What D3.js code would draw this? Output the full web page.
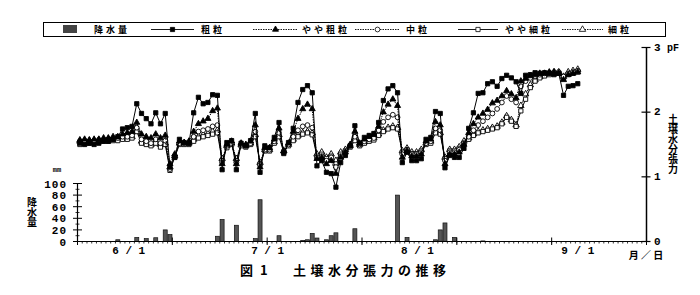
<!DOCTYPE html>
<html><head><meta charset="utf-8">
<script src="https://cdn.jsdelivr.net/npm/d3@7/dist/d3.min.js"></script>
<style>body{margin:0;background:#fff}svg{display:block}</style>
</head><body><svg id="c" width="700" height="295"></svg>
<script>
// ---- data ----
const seriesNames = ["粗粒","やや粗粒","中粒","やや細粒","細粒"];
const coarse = [1.52,1.50,1.52,1.50,1.52,1.55,1.55,1.58,1.62,1.74,1.76,1.78,2.13,1.98,1.90,1.82,1.99,1.82,1.98,1.15,1.30,1.58,1.53,1.52,1.99,2.23,2.13,2.15,2.27,2.26,1.11,1.53,1.56,1.11,1.52,1.48,1.56,1.98,1.07,1.48,1.45,1.61,1.84,1.36,1.53,1.75,2.15,2.35,2.41,2.30,1.17,1.25,1.07,1.05,0.84,1.22,1.33,1.48,1.79,1.52,1.61,1.64,1.67,1.84,2.18,2.36,2.41,2.30,1.22,1.38,1.25,1.25,1.28,1.58,1.61,2.01,1.98,1.14,1.33,1.30,1.30,1.44,1.75,1.99,2.29,2.30,2.44,2.47,2.40,2.52,2.57,2.53,2.47,2.29,2.57,2.58,2.61,2.60,2.61,2.60,2.58,2.60,2.26,2.40,2.41,2.44];
const semiCoarse = [1.57,1.58,1.57,1.58,1.58,1.60,1.60,1.62,1.62,1.66,1.68,1.70,1.84,1.66,1.62,1.60,1.66,1.60,1.64,1.20,1.35,1.55,1.53,1.55,1.70,1.82,1.86,1.90,2.02,2.06,1.20,1.50,1.55,1.20,1.52,1.50,1.55,1.80,1.15,1.45,1.45,1.58,1.75,1.40,1.52,1.70,1.90,2.05,2.12,2.05,1.28,1.30,1.20,1.25,1.05,1.30,1.38,1.50,1.70,1.52,1.58,1.62,1.65,1.78,2.00,2.12,2.20,2.10,1.30,1.40,1.32,1.32,1.35,1.55,1.58,1.85,1.80,1.20,1.35,1.35,1.38,1.50,1.68,1.82,1.92,1.98,2.04,2.14,2.18,2.25,2.33,2.28,2.22,2.48,2.52,2.56,2.58,2.60,2.60,2.62,2.62,2.60,2.50,2.58,2.60,2.62];
const medium = [1.55,1.56,1.55,1.56,1.57,1.57,1.58,1.58,1.60,1.62,1.62,1.64,1.76,1.58,1.55,1.52,1.58,1.52,1.56,1.12,1.32,1.52,1.52,1.52,1.62,1.70,1.72,1.74,1.78,1.80,1.22,1.48,1.52,1.22,1.50,1.48,1.52,1.70,1.18,1.42,1.42,1.55,1.68,1.40,1.50,1.62,1.72,1.78,1.80,1.76,1.30,1.32,1.25,1.30,1.15,1.32,1.38,1.48,1.62,1.50,1.55,1.58,1.60,1.72,1.85,1.92,1.96,1.92,1.35,1.42,1.35,1.35,1.38,1.52,1.55,1.75,1.72,1.25,1.38,1.38,1.42,1.52,1.62,1.72,1.80,1.86,1.92,1.98,2.05,2.15,2.25,2.20,2.15,2.40,2.48,2.53,2.56,2.58,2.60,2.61,2.62,2.62,2.55,2.60,2.62,2.64];
const semiFine = [1.50,1.52,1.52,1.53,1.54,1.55,1.55,1.56,1.56,1.58,1.58,1.60,1.70,1.52,1.50,1.48,1.52,1.46,1.50,1.10,1.30,1.50,1.50,1.50,1.55,1.60,1.62,1.64,1.66,1.68,1.25,1.45,1.50,1.25,1.48,1.46,1.50,1.62,1.20,1.40,1.40,1.52,1.62,1.38,1.48,1.56,1.62,1.66,1.68,1.65,1.32,1.35,1.28,1.32,1.20,1.35,1.40,1.46,1.56,1.48,1.52,1.55,1.57,1.64,1.70,1.74,1.76,1.74,1.38,1.42,1.36,1.36,1.40,1.50,1.52,1.68,1.66,1.28,1.40,1.40,1.44,1.52,1.58,1.64,1.68,1.70,1.72,1.74,1.76,1.82,1.92,1.86,1.78,2.02,2.20,2.38,2.48,2.53,2.56,2.58,2.60,2.60,2.52,2.58,2.60,2.62];
const fine = [1.55,1.55,1.56,1.56,1.57,1.57,1.58,1.58,1.60,1.60,1.62,1.62,1.72,1.55,1.52,1.50,1.55,1.50,1.52,1.15,1.32,1.52,1.52,1.52,1.58,1.62,1.65,1.67,1.70,1.72,1.28,1.48,1.52,1.28,1.50,1.48,1.52,1.65,1.22,1.42,1.42,1.54,1.65,1.40,1.50,1.58,1.64,1.68,1.70,1.68,1.35,1.38,1.30,1.35,1.25,1.38,1.42,1.48,1.58,1.50,1.54,1.57,1.60,1.66,1.72,1.76,1.78,1.76,1.40,1.44,1.38,1.38,1.42,1.52,1.55,1.70,1.68,1.30,1.42,1.42,1.46,1.55,1.60,1.66,1.70,1.72,1.74,1.76,1.78,1.84,1.94,1.88,1.80,2.10,2.28,2.42,2.50,2.55,2.58,2.60,2.62,2.62,2.55,2.62,2.64,2.66];
const rainDays = [8,12,14,16,18,19,29,30,33,37,38,42,47,48,49,50,52,53,54,58,67,69,75,76,77,79,85];
const rainMm   = [3,7,5,6.5,20,12,9,38,28,5,72,10,2,3,14,6,3,10,15,22,80,7,3,20,32,7,1];
const rainTicks = [0,20,40,60,80,100];
const pfTicks = [0,1,2,3];
const xLabels = ["6/1","7/1","8/1","9/1"];
const xLabelPos = [10.8,40.1,71.7,105.5];   // days from chart start, as drawn
const xMajor = [0,20,40,60,80,100,120];

// ---- layout ----
const svg = d3.select("#c");
const x = d3.scaleLinear().domain([0,120]).range([77.5,646.5]);
const yPf = d3.scaleLinear().domain([0,3]).range([241.5,47.5]);
const yRain = d3.scaleLinear().domain([0,100]).range([241.5,183.5]);
const numFont = "'Liberation Mono', monospace";
const jpFont = "'Noto Sans CJK JP', sans-serif";

// precipitation bars
svg.append("g").selectAll("rect").data(rainDays).join("rect")
  .attr("x", (d)=>x(d+0.5)-2).attr("width",4)
  .attr("y",(d,i)=>yRain(rainMm[i])).attr("height",(d,i)=>yRain(0)-yRain(rainMm[i]))
  .attr("fill","#555").attr("stroke","#111").attr("stroke-width",0.7);

// axes lines
const ax = svg.append("g").attr("stroke","#000").attr("fill","none");
ax.append("line").attr("x1",x(0)).attr("x2",x(120)).attr("y1",241.5).attr("y2",241.5).attr("stroke-width",1.2);
ax.append("line").attr("x1",x(0)).attr("x2",x(0)).attr("y1",yRain(100)).attr("y2",241.5).attr("stroke-width",1.2);
ax.append("line").attr("x1",x(120)).attr("x2",x(120)).attr("y1",yPf(3)).attr("y2",241.5).attr("stroke-width",1.5);
ax.selectAll(".mt").data(d3.range(0,121)).join("line")
  .attr("x1",d=>x(d)).attr("x2",d=>x(d)).attr("y1",241.5).attr("y2",243.5).attr("stroke-width",0.8);
ax.selectAll(".Mt").data(xMajor).join("line")
  .attr("x1",d=>x(d)).attr("x2",d=>x(d)).attr("y1",237.5).attr("y2",245).attr("stroke-width",1);
ax.selectAll(".rt").data(rainTicks).join("line")
  .attr("x1",x(0)-4.5).attr("x2",x(0)+4.5).attr("y1",d=>yRain(d)).attr("y2",d=>yRain(d)).attr("stroke-width",1);
ax.selectAll(".rmt").data([10,30,50,70,90]).join("line")
  .attr("x1",x(0)-2).attr("x2",x(0)+2).attr("y1",d=>yRain(d)).attr("y2",d=>yRain(d)).attr("stroke-width",0.8);
ax.selectAll(".pt").data(pfTicks).join("line")
  .attr("x1",x(120)-5).attr("x2",x(120)+4).attr("y1",d=>yPf(d)).attr("y2",d=>yPf(d)).attr("stroke-width",1.2);

// tick labels
svg.append("g").selectAll("text").data(rainTicks).join("text")
  .attr("x",67).attr("y",d=>yRain(d)+4).attr("text-anchor","end")
  .attr("font-family",numFont).attr("font-weight","bold").attr("font-size",11).attr("letter-spacing",1)
  .text(d=>d);
svg.append("text").attr("x",57).attr("y",172).attr("text-anchor","middle")
  .attr("font-family",numFont).attr("font-weight","bold").attr("font-size",7).text("mm");
svg.append("g").selectAll("text").data(pfTicks).join("text")
  .attr("x",654).attr("y",d=>yPf(d)+3)
  .attr("font-family",numFont).attr("font-weight","bold").attr("font-size",11)
  .text(d=>d);
svg.append("text").attr("x",667).attr("y",yPf(3)+3)
  .attr("font-family",numFont).attr("font-weight","bold").attr("font-size",10).text("pF");
svg.append("g").selectAll("text").data(xLabels).join("text")
  .attr("x",(d,i)=>x(xLabelPos[i])).attr("y",254).attr("text-anchor","middle")
  .attr("font-family",numFont).attr("font-weight","bold").attr("font-size",11)
  .text(d=>d.replace("/"," / "));
svg.append("text").attr("x",646).attr("y",259).attr("text-anchor","middle")
  .attr("font-family",jpFont).attr("font-weight","bold").attr("font-size",10)
  .text("月 ／ 日");

// vertical axis titles
svg.append("text").attr("x",32).attr("y",197)
  .style("writing-mode","vertical-rl").attr("text-anchor","start")
  .attr("font-family",jpFont).attr("font-weight","bold").attr("font-size",10).text("降水量");
svg.append("text").attr("x",673).attr("y",114)
  .style("writing-mode","vertical-rl").attr("text-anchor","start")
  .attr("font-family",jpFont).attr("font-weight","bold").attr("font-size",10).text("土壌水分張力");

// title
svg.append("text").attr("x",240).attr("y",275)
  .attr("font-family",jpFont).attr("font-weight","bold").attr("font-size",13).attr("letter-spacing",2)
  .text("図 1");
svg.append("text").attr("x",293).attr("y",275)
  .attr("font-family",jpFont).attr("font-weight","bold").attr("font-size",13).attr("letter-spacing",4.5)
  .text("土壌水分張力の推移");

// series
const seriesData = [coarse, semiCoarse, medium, semiFine, fine];
const styles = [
  {sym:d3.symbolSquare, size:18, fill:"#000", dash:null},
  {sym:d3.symbolTriangle, size:16, fill:"#000", dash:"1.5,1"},
  {sym:d3.symbolCircle, size:18, fill:"#fff", dash:"1.5,1"},
  {sym:d3.symbolSquare, size:18, fill:"#fff", dash:null},
  {sym:d3.symbolTriangle, size:18, fill:"#fff", dash:"1.5,1"}
];
const line = d3.line().x((d,i)=>x(i+0.5)).y(d=>yPf(d));
const order = [4,3,2,1,0];
order.forEach(k=>{
  const g = svg.append("g");
  g.append("path").attr("d",line(seriesData[k])).attr("fill","none").attr("stroke","#000")
    .attr("stroke-width",1).attr("stroke-dasharray",styles[k].dash);
  g.selectAll("path.m").data(seriesData[k]).join("path").attr("class","m")
    .attr("transform",(d,i)=>`translate(${x(i+0.5)},${yPf(d)})`)
    .attr("d",d3.symbol().type(styles[k].sym).size(styles[k].size))
    .attr("fill",styles[k].fill).attr("stroke","#000").attr("stroke-width",0.9);
});

// legend
const lg = svg.append("g");
lg.append("rect").attr("x",43.5).attr("y",22.5).attr("width",622).attr("height",14)
  .attr("fill","none").attr("stroke","#000").attr("stroke-width",1);
lg.append("rect").attr("x",63).attr("y",25).attr("width",14).attr("height",8).attr("fill","#444");
lg.append("text").attr("x",94).attr("y",33).attr("font-family",jpFont).attr("font-weight","bold")
  .attr("font-size",9).attr("letter-spacing",3).text("降水量");
const legX = [[151,194,201],[253,298,302],[355,400,406],[458,498,505],[562,603,608]];
seriesNames.forEach((n,k)=>{
  const [a,b,t] = legX[k];
  lg.append("line").attr("x1",a).attr("x2",b).attr("y1",29.5).attr("y2",29.5)
    .attr("stroke","#000").attr("stroke-width",0.9).attr("stroke-dasharray",styles[k].dash);
  lg.append("path").attr("transform",`translate(${(a+b)/2},29.5)`)
    .attr("d",d3.symbol().type(styles[k].sym).size(styles[k].size))
    .attr("fill",styles[k].fill).attr("stroke","#000").attr("stroke-width",0.8);
  lg.append("text").attr("x",t).attr("y",33).attr("font-family",jpFont).attr("font-weight","bold")
    .attr("font-size",9).attr("letter-spacing",3).text(n);
});
</script></body></html>
